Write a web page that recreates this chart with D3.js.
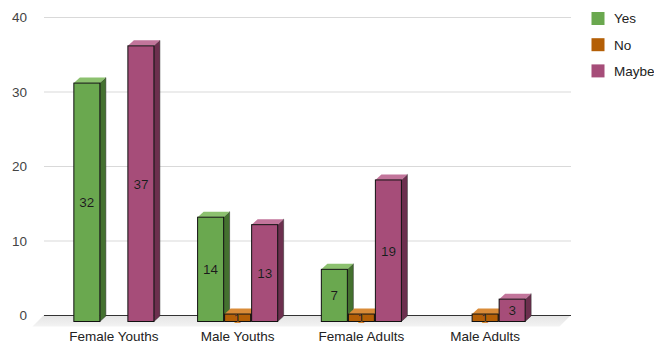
<!DOCTYPE html>
<html>
<head>
<meta charset="utf-8">
<script src="https://cdn.jsdelivr.net/npm/d3@7"></script>
<style>
  html, body { margin: 0; padding: 0; background: #fff; }
  svg { display: block; font-family: Arial, "Liberation Sans", sans-serif; }
</style>
</head>
<body>
<svg id="chart" width="654" height="345"></svg>
<script>
// Survey answers per audience group
const categories = ["Female Youths", "Male Youths", "Female Adults", "Male Adults"];
const seriesNames = ["Yes", "No", "Maybe"];
const yesValues   = [32, 14, 7, null];
const noValues    = [null, 1, 1, 1];
const maybeValues = [37, 13, 19, 3];
const yTicks = [0, 10, 20, 30, 40];

const seriesValues = [yesValues, noValues, maybeValues];
const palette = {
  Yes:   { front: "#6aa84f", side: "#44712f", top: "#8cc16f", label: "#8cc16f" },
  No:    { front: "#b45f06", side: "#7d4204", top: "#d98b38", label: "#d98b38" },
  Maybe: { front: "#a64d79", side: "#6c2f4e", top: "#c2759b", label: "#c2759b" }
};
const fontSize = 13.5;

const svg = d3.select("#chart");

// 3D depth of the bars and of the back wall behind them
const depthX = 6, depthY = -5.5;
const wallY = -6.5;

// Front-plane scales
const y = d3.scaleLinear().domain([0, 40]).range([321.5, 23.5]);
const x = d3.scaleBand().domain(categories).range([52, 547])
  .paddingInner(0.345).paddingOuter(0.1725);
const xs = d3.scaleBand().domain(seriesNames).range([0, x.bandwidth()]);

// Back wall scale for grid lines and tick labels
const yBack = d3.scaleLinear().domain([0, 40]).range([y(0) + wallY, y(40) + wallY]);
const gridLeft = 44, gridRight = 571;

// Floor slab
const defs = svg.append("defs");
const fg = defs.append("linearGradient").attr("id", "floorGrad")
  .attr("x1", 0).attr("y1", 0).attr("x2", 0).attr("y2", 1);
fg.append("stop").attr("offset", "0%").attr("stop-color", "#e4e4e4");
fg.append("stop").attr("offset", "100%").attr("stop-color", "#f3f3f3");

const floorDepth = 11.5;
svg.append("polygon")
  .attr("points", [
    [gridLeft, yBack(0)], [gridRight, yBack(0)],
    [gridRight - floorDepth, yBack(0) + floorDepth], [gridLeft - floorDepth, yBack(0) + floorDepth]
  ].map(p => p.join(",")).join(" "))
  .attr("fill", "url(#floorGrad)");

// Grid lines and y tick labels
const yAxis = d3.axisLeft(yBack).tickValues(yTicks).tickSize(-(gridRight - gridLeft)).tickPadding(0);
const gAxis = svg.append("g").attr("transform", `translate(${gridLeft},0)`).call(yAxis);
gAxis.select(".domain").remove();
gAxis.selectAll(".tick line")
  .attr("stroke", d => d === 0 ? "#333" : "#d9d9d9")
  .attr("stroke-width", 1);
gAxis.selectAll(".tick text")
  .attr("x", 27 - gridLeft)
  .attr("dy", "0.36em")
  .attr("fill", "#444")
  .attr("font-size", fontSize)
  .attr("font-family", "Arial, 'Liberation Sans', sans-serif");

// Bars
const barsG = svg.append("g");
let clipId = 0;

categories.forEach((cat, ci) => {
  seriesNames.forEach((s, si) => {
    const v = seriesValues[si][ci];
    if (v == null) return;
    const c = palette[s];
    const x0 = x(cat) + xs(s) + 0.5;
    const w = xs.bandwidth() - 1;
    const yt = y(v), yb = y(0);
    const g = barsG.append("g");

    // side face
    g.append("polygon")
      .attr("points", [[x0 + w, yt], [x0 + w + depthX, yt + depthY], [x0 + w + depthX, yb + depthY], [x0 + w, yb]]
        .map(p => p.join(",")).join(" "))
      .attr("fill", c.side).attr("stroke", "#2a2a2a").attr("stroke-width", 0.5);
    // top face
    g.append("polygon")
      .attr("points", [[x0, yt], [x0 + depthX, yt + depthY], [x0 + w + depthX, yt + depthY], [x0 + w, yt]]
        .map(p => p.join(",")).join(" "))
      .attr("fill", c.top);
    // front face
    g.append("rect")
      .attr("x", x0).attr("y", yt).attr("width", w).attr("height", yb - yt)
      .attr("fill", c.front).attr("stroke", "#111").attr("stroke-width", 1);

    // value label: dark inside the face, tinted where it spills outside
    const cx = x0 + w / 2, cy = (yt + yb) / 2;
    const id = "face" + (clipId++);
    defs.append("clipPath").attr("id", id)
      .append("rect").attr("x", x0).attr("y", yt).attr("width", w).attr("height", yb - yt);
    const label = (sel, fill) => sel.append("text")
      .attr("x", cx).attr("y", cy).attr("dy", "0.36em")
      .attr("text-anchor", "middle").attr("font-size", fontSize)
      .attr("fill", fill).text(v);
    label(g, c.label);
    label(g.append("g").attr("clip-path", `url(#${id})`), "#1a1a1a");
  });
});

// Category labels
svg.append("g").selectAll("text").data(categories).join("text")
  .attr("x", d => x(d) + x.bandwidth() / 2)
  .attr("y", 341)
  .attr("text-anchor", "middle")
  .attr("font-size", fontSize)
  .attr("fill", "#222")
  .text(d => d);

// Legend
const legend = svg.append("g").selectAll("g").data(seriesNames).join("g")
  .attr("transform", (d, i) => `translate(591.5,${12 + i * 26.2})`);
legend.append("rect").attr("width", 13).attr("height", 13)
  .attr("fill", d => palette[d].front);
legend.append("text").attr("x", 22.5).attr("y", 6.5).attr("dy", "0.36em")
  .attr("font-size", fontSize).attr("fill", "#222").text(d => d);
</script>
</body>
</html>
